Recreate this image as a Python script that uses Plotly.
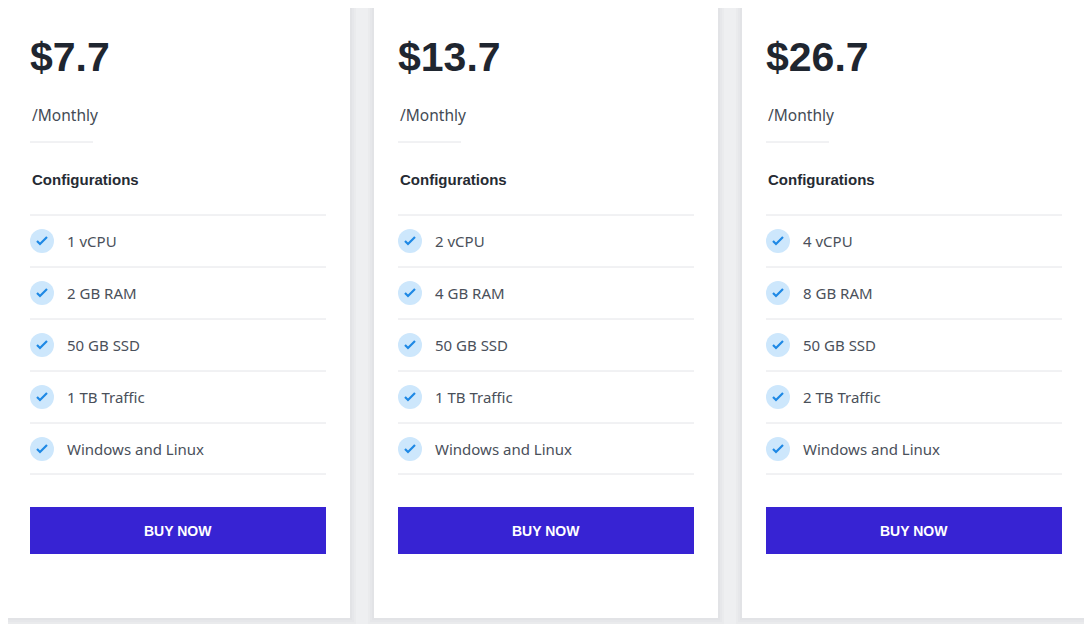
import plotly.graph_objects as go

prices = ["$7.7", "$13.7", "$26.7"]
period = "/Monthly"
vcpu = ["1 vCPU", "2 vCPU", "4 vCPU"]
ram = ["2 GB RAM", "4 GB RAM", "8 GB RAM"]
ssd = ["50 GB SSD", "50 GB SSD", "50 GB SSD"]
traffic = ["1 TB Traffic", "1 TB Traffic", "2 TB Traffic"]
os_support = ["Windows and Linux"] * 3
button_label = "BUY NOW"

W, H = 1092, 624
OFF = 8  # page body margin shifts the figure by 8px
card_left = [6, 374, 742]
card_w = 344
row_y = [241, 293, 345, 397, 449]

fig = go.Figure()
shapes = []
annotations = []

# background decoration
shapes.append(dict(type="rect", x0=-20, x1=W + 20, y0=-20, y1=H + 20, fillcolor="#eeeff1", line_width=0, layer="below"))
shapes.append(dict(type="rect", x0=1086, x1=1092, y0=68, y1=80, fillcolor="#1bb3e8", line_width=0, layer="below"))
shapes.append(dict(type="path", path="M 1086 205 L 1092 215 L 1092 245 L 1086 240 Z", fillcolor="#5bc4ea", line_width=0, layer="below"))

for i, left in enumerate(card_left):
    # soft shadow
    for k, c in enumerate(["#eaebed", "#e6e7ea", "#e2e3e6"]):
        pad = 6 - 2 * k
        shapes.append(dict(type="rect", x0=left - pad, x1=left + card_w + pad, y0=7 - pad + 2, y1=618 + pad,
                           fillcolor=c, line_width=0, layer="below"))
    shapes.append(dict(type="rect", x0=left, x1=left + card_w, y0=7, y1=618, fillcolor="#ffffff", line_width=0, layer="below"))
    x0 = left + 24
    x1 = left + 320
    annotations.append(dict(x=x0 - 2, y=57, text="<b>%s</b>" % prices[i], showarrow=False, xanchor="left", yanchor="middle",
                            font=dict(family="Liberation Sans, Arial", size=41, color="#1f2630")))
    annotations.append(dict(x=x0, y=115, text=period, showarrow=False, xanchor="left", yanchor="middle",
                            font=dict(family="Noto Sans", size=15.5, color="#444b55")))
    shapes.append(dict(type="line", x0=x0, x1=x0 + 63, y0=142, y1=142, line=dict(color="#e3e4e8", width=1)))
    annotations.append(dict(x=x0, y=179, text="<b>Configurations</b>", showarrow=False, xanchor="left", yanchor="middle",
                            font=dict(family="Liberation Sans, Arial", size=15, color="#262b33")))
    items = [vcpu[i], ram[i], ssd[i], traffic[i], os_support[i]]
    for j, (y, label) in enumerate(zip(row_y, items)):
        shapes.append(dict(type="line", x0=x0, x1=x1, y0=y - 26, y1=y - 26, line=dict(color="#e3e4e8", width=1)))
        cx = x0 + 12
        shapes.append(dict(type="circle", x0=cx - 12, x1=cx + 12, y0=y - 12, y1=y + 12, fillcolor="#cde7fc", line_width=0))
        shapes.append(dict(type="path", path="M %d %d L %d %d L %d %d" % (cx - 5, y, cx - 1.5, y + 3.5, cx + 5, y - 3.5),
                           line=dict(color="#1e88e5", width=2.2)))
        annotations.append(dict(x=x0 + 35, y=y, text=label, showarrow=False, xanchor="left", yanchor="middle",
                                font=dict(family="Noto Sans", size=15, color="#4a505a")))
    shapes.append(dict(type="line", x0=x0, x1=x1, y0=474, y1=474, line=dict(color="#e3e4e8", width=1)))
    shapes.append(dict(type="rect", x0=x0, x1=x1, y0=507, y1=554, fillcolor="#3723d3", line_width=0))
    annotations.append(dict(x=(x0 + x1) / 2, y=531, text="<b>%s</b>" % button_label, showarrow=False,
                            xanchor="center", yanchor="middle",
                            font=dict(family="Liberation Sans, Arial", size=14, color="#ffffff")))

fig.update_layout(
    width=W, height=H, margin=dict(l=0, r=0, t=0, b=0),
    paper_bgcolor="#eeeff1", plot_bgcolor="#eeeff1",
    xaxis=dict(range=[OFF, W + OFF], visible=False, fixedrange=True),
    yaxis=dict(range=[H + OFF, OFF], visible=False, fixedrange=True),
    shapes=shapes, annotations=annotations, showlegend=False,
)
fig.write_html("out.html")
